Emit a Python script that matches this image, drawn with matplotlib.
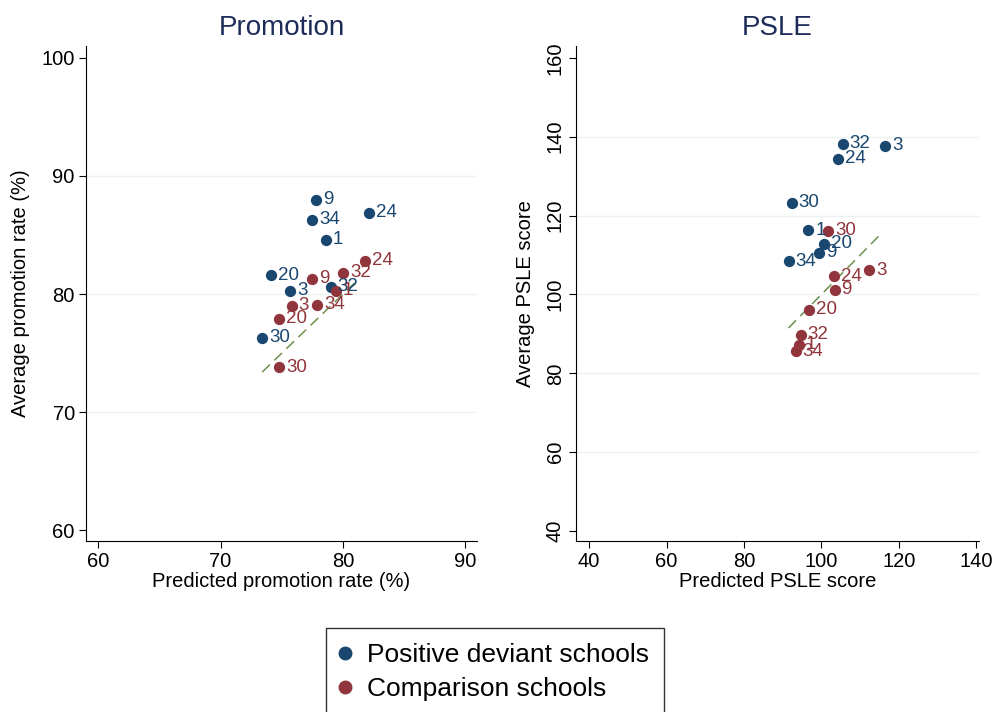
import matplotlib
matplotlib.use('Agg')
import matplotlib.pyplot as plt
from matplotlib.lines import Line2D

plt.rcParams['font.family'] = ['Liberation Sans', 'DejaVu Sans']

NAVY = '#1a476f'
MAROON = '#90353b'
GREEN = '#6f8f4f'

# school ids
pd_ids = ['9', '34', '24', '1', '20', '3', '32', '30']
cmp_ids = ['24', '32', '9', '1', '3', '34', '20', '30']

# Promotion panel (predicted, actual)
promo_pd_x = [77.8, 77.5, 82.1, 78.6, 74.1, 75.7, 79.0, 73.4]
promo_pd_y = [88.0, 86.3, 86.9, 84.6, 81.6, 80.3, 80.6, 76.3]
promo_cmp_x = [81.8, 80.0, 77.5, 79.4, 75.8, 77.9, 74.8, 74.8]
promo_cmp_y = [82.8, 81.8, 81.3, 80.3, 79.0, 79.1, 77.9, 73.8]
promo_line = [73.4, 81.2]

# PSLE panel
pd_order_psle = ['32', '3', '24', '30', '1', '20', '9', '34']
psle_pd_x = [105.5, 116.5, 104.4, 92.3, 96.6, 100.6, 99.5, 91.5]
psle_pd_y = [138.2, 137.7, 134.4, 123.3, 116.3, 112.8, 110.6, 108.4]
cmp_order_psle = ['30', '3', '24', '9', '20', '32', '1', '34']
psle_cmp_x = [101.8, 112.4, 103.3, 103.4, 96.9, 94.6, 94.2, 93.4]
psle_cmp_y = [116.1, 106.2, 104.6, 101.2, 96.1, 89.8, 87.3, 85.6]
psle_line = [91.5, 115.4]


def panel(ax, title, xs1, ys1, ids1, xs2, ys2, ids2, line, xticks, yticks,
          xlim, ylim, xlabel, ylabel, rot):
    for t in yticks[1:-1]:
        ax.axhline(t, color='#eaf2f3', lw=1, zorder=0)
    ax.plot(line, line, ls=(0, (7, 4)), color=GREEN, lw=1.1, zorder=1)
    ax.scatter(xs1, ys1, s=66, color=NAVY, zorder=3, linewidths=0)
    ax.scatter(xs2, ys2, s=66, color=MAROON, zorder=3, linewidths=0)
    for x, y, t in zip(xs1, ys1, ids1):
        ax.annotate(t, (x, y), xytext=(5, 0), textcoords='offset points',
                    va='center', ha='left', color=NAVY, fontsize=13.5, zorder=4)
    for x, y, t in zip(xs2, ys2, ids2):
        ax.annotate(t, (x, y), xytext=(5, 0), textcoords='offset points',
                    va='center', ha='left', color=MAROON, fontsize=13.5, zorder=4)
    ax.set_xlim(*xlim)
    ax.set_ylim(*ylim)
    ax.set_xticks(xticks)
    ax.set_yticks(yticks)
    for s in ['top', 'right']:
        ax.spines[s].set_visible(False)
    ax.tick_params(labelsize=14.5, length=5, width=0.8, pad=3)
    if rot:
        for lab in ax.get_yticklabels():
            lab.set_rotation(90)
            lab.set_va('center')
    ax.set_xlabel(xlabel, fontsize=14.5, labelpad=1)
    ax.set_ylabel(ylabel, fontsize=14.5, labelpad=8)
    ax.set_title(title, fontsize=20, color='#1e2c5a', pad=8)


fig = plt.figure(figsize=(9.95, 7.12), dpi=100)
ax1 = fig.add_axes([0.0864, 0.2402, 0.393, 0.6952])
ax2 = fig.add_axes([0.5789, 0.2402, 0.405, 0.6952])

panel(ax1, 'Promotion', promo_pd_x, promo_pd_y, pd_ids,
      promo_cmp_x, promo_cmp_y, cmp_ids, promo_line,
      [60, 70, 80, 90], [60, 70, 80, 90, 100],
      (59.0, 90.95), (59.1, 101.0),
      'Predicted promotion rate (%)', 'Average promotion rate (%)', False)
panel(ax2, 'PSLE', psle_pd_x, psle_pd_y, pd_order_psle,
      psle_cmp_x, psle_cmp_y, cmp_order_psle, psle_line,
      [40, 60, 80, 100, 120, 140], [40, 60, 80, 100, 120, 140, 160],
      (36.6, 140.7), (37.5, 163.0),
      'Predicted PSLE score', 'Average PSLE score', True)

handles = [Line2D([], [], ls='', marker='o', ms=9, color=NAVY),
           Line2D([], [], ls='', marker='o', ms=9, color=MAROON)]
leg = fig.legend(handles, ['Positive deviant schools', 'Comparison schools'],
                 loc='upper center', bbox_to_anchor=(0.4975, 0.136),
                 fontsize=19, frameon=True, fancybox=False, edgecolor='black',
                 handletextpad=0.7, borderpad=0.55, labelspacing=0.4,
                 handlelength=0.3)
leg.get_frame().set_linewidth(1.0)

fig.savefig('out.png', dpi=100)
